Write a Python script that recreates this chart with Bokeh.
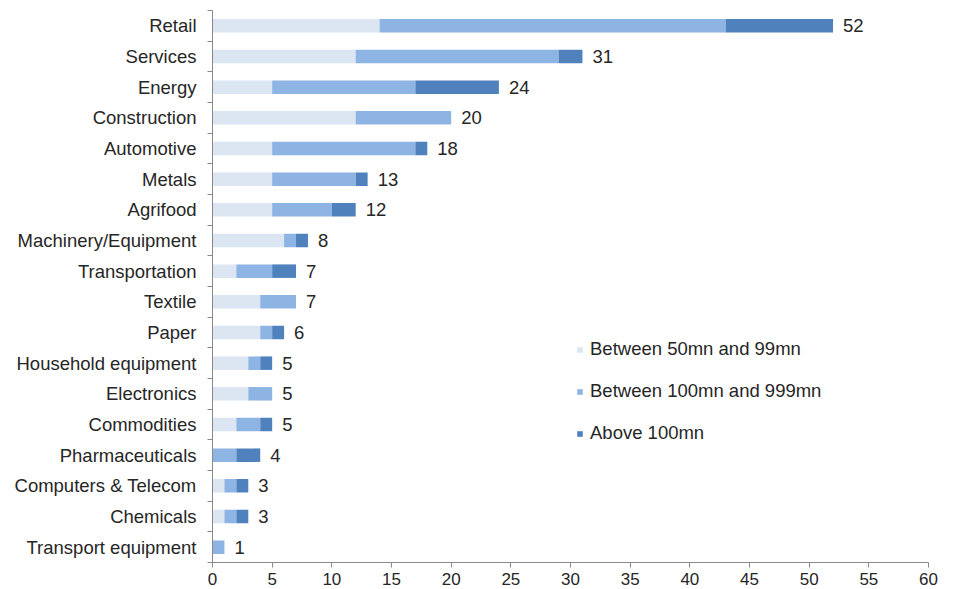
from bokeh.plotting import figure
from bokeh.models import ColumnDataSource, Range1d, FixedTicker, Legend, LegendItem
from bokeh.embed import file_html
from bokeh.resources import INLINE
from bokeh.core.properties import value

categories = ["Retail", "Services", "Energy", "Construction", "Automotive", "Metals",
              "Agrifood", "Machinery/Equipment", "Transportation", "Textile", "Paper",
              "Household equipment", "Electronics", "Commodities", "Pharmaceuticals",
              "Computers & Telecom", "Chemicals", "Transport equipment"]
small = [14, 12, 5, 12, 5, 5, 5, 6, 2, 4, 4, 3, 3, 2, 0, 1, 1, 0]
medium = [29, 17, 12, 8, 12, 7, 5, 1, 3, 3, 1, 1, 2, 2, 2, 1, 1, 1]
large = [9, 2, 7, 0, 1, 1, 2, 1, 2, 0, 1, 1, 0, 1, 2, 1, 1, 0]
series_names = ["Between 50mn and 99mn", "Between 100mn and 999mn", "Above 100mn"]
x_ticks = [0, 5, 10, 15, 20, 25, 30, 35, 40, 45, 50, 55, 60]

colors = ["#dce6f2", "#8db4e2", "#4f81bd"]
FONT = "Liberation Sans"
TXT = "#262626"

n = len(categories)
ypos = [n - 1 - i for i in range(n)]
totals = [a + b + c for a, b, c in zip(small, medium, large)]

src = ColumnDataSource(dict(y=ypos, small=small, medium=medium, large=large,
                            total=totals, label=[str(t) for t in totals]))

p = figure(width=956, height=589, output_backend="svg", toolbar_location=None,
           x_range=Range1d(0, 60), y_range=Range1d(-0.5, n - 0.5),
           min_border_left=212, min_border_right=28, min_border_top=10, min_border_bottom=27)
p.outline_line_color = None
p.grid.visible = False

rs = p.hbar_stack(["small", "medium", "large"], y="y", height=0.44, color=colors,
                  line_color=None, source=src)

p.text(x="total", y="y", text="label", source=src, x_offset=10,
       text_baseline="middle", text_align="left", text_font=value(FONT),
       text_font_size="18.5px", text_color=TXT)

# axes
xa = p.xaxis[0]
xa.ticker = FixedTicker(ticks=x_ticks)
xa.major_tick_out = 5
xa.major_tick_in = 0
xa.minor_tick_out = 0
xa.axis_line_color = "#898989"
xa.major_tick_line_color = "#898989"
xa.major_label_text_font = FONT
xa.major_label_text_font_size = "17px"
xa.major_label_text_color = TXT
xa.major_label_standoff = 5

ya = p.yaxis[0]
ya.ticker = FixedTicker(ticks=ypos, minor_ticks=[k - 0.5 for k in range(n + 1)])
ya.major_label_overrides = {y: c for y, c in zip(ypos, categories)}
ya.major_tick_out = 0
ya.major_tick_in = 0
ya.minor_tick_out = 5
ya.minor_tick_in = 0
ya.axis_line_color = "#898989"
ya.minor_tick_line_color = "#898989"
ya.major_label_text_font = FONT
ya.major_label_text_font_size = "18.5px"
ya.major_label_text_color = TXT
ya.major_label_standoff = 11

legend = Legend(items=[LegendItem(label=nm, renderers=[r]) for nm, r in zip(series_names, rs)],
                location=(364, 118), glyph_width=7, glyph_height=7, label_standoff=7,
                label_text_font=FONT, label_text_font_size="18.5px", label_text_color=TXT,
                label_height=20, spacing=20, padding=0, margin=0,
                border_line_color=None, background_fill_alpha=0)
p.add_layout(legend, "center")

open("out.html", "w").write(file_html(p, INLINE))
